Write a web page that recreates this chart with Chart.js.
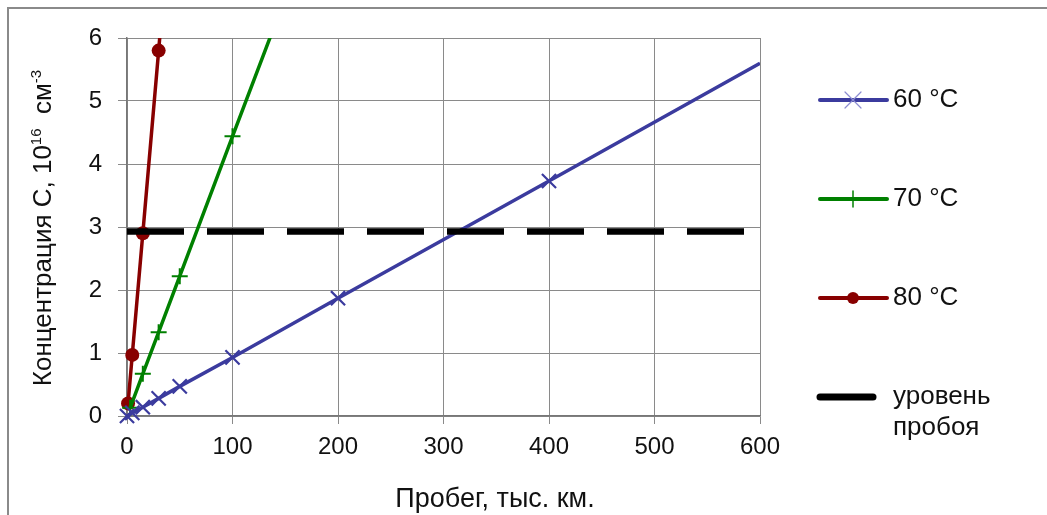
<!DOCTYPE html>
<html>
<head>
<meta charset="utf-8">
<script src="https://cdn.jsdelivr.net/npm/chart.js@4"></script>
<style>
  html, body { margin: 0; padding: 0; background: #fff; }
  #wrap { width: 1047px; height: 515px; }
</style>
</head>
<body>
<div id="wrap"><canvas id="grafico" width="1047" height="515"></canvas></div>
<script>
// данные
const probeg60 = [0, 5, 15, 30, 50, 100, 200, 400, 600];
const konc60 = [0, 0.05, 0.14, 0.28, 0.47, 0.93, 1.87, 3.73, 5.6];
const probeg70 = [3, 15, 30, 50, 100, 140];
const konc70 = [0.13, 0.67, 1.33, 2.22, 4.44, 6.2];
const probeg80 = [1, 5, 15, 30, 35];
const konc80 = [0.2, 0.97, 2.9, 5.8, 6.8];
const urovenProboya = 2.93;
const urovenX = [0, 590];
const xTicks = [0, 100, 200, 300, 400, 500, 600];
const yTicks = [0, 1, 2, 3, 4, 5, 6];
const nazvaniya = ['60 °C', '70 °C', '80 °C', 'уровень пробоя'];

function toPoints(xs, ys) {
    return xs.map((x, i) => ({ x: x, y: ys[i] }));
}
// последняя точка только продлевает линию, без маркера
function radii(n, r) {
    return Array.from({ length: n }, (_, i) => i === n - 1 ? 0 : r);
}

const FONT = 'Liberation Sans, Arial, sans-serif';

const ramka = {
    id: 'ramka',
    beforeDraw(chart) {
        const c = chart.ctx;
        c.save();
        c.strokeStyle = '#8a8a8a';
        c.lineWidth = 2;
        c.beginPath();
        c.moveTo(8, 515);
        c.lineTo(8, 8);
        c.lineTo(1047, 8);
        c.stroke();
        c.restore();
    },
    afterDraw(chart) {
        const c = chart.ctx;
        c.save();
        c.fillStyle = '#111';
        // подпись оси X
        c.font = '27px ' + FONT;
        c.textAlign = 'center';
        c.textBaseline = 'middle';
        c.fillText('Пробег, тыс. км.', 495, 500);

        // подпись оси Y с верхними индексами
        const parts = [
            ['Концентрация С, 10', 26, 0],
            ['16', 15, -10],
            ['  см', 26, 0],
            ['-3', 15, -10]
        ];
        let total = 0;
        parts.forEach(p => { c.font = p[1] + 'px ' + FONT; total += c.measureText(p[0]).width; });
        c.translate(42, 228);
        c.rotate(-Math.PI / 2);
        c.textAlign = 'left';
        c.textBaseline = 'alphabetic';
        let x = -total / 2;
        parts.forEach(p => {
            c.font = p[1] + 'px ' + FONT;
            c.fillText(p[0], x, 9 + p[2]);
            x += c.measureText(p[0]).width;
        });
        c.setTransform(1, 0, 0, 1, 0, 0);

        // легенда
        const ys = [100, 199, 298, 397];
        chart.data.datasets.forEach((ds, i) => {
            const y = ys[i];
            c.strokeStyle = ds.borderColor;
            c.lineCap = 'round';
            c.lineWidth = i === 3 ? 7 : 4;
            c.beginPath();
            c.moveTo(820, y);
            c.lineTo(i === 3 ? 873 : 887, y);
            c.stroke();
            const mx = 853;
            if (i === 0) {
                c.strokeStyle = '#8c8cd0';
                c.lineWidth = 1.2;
                c.beginPath();
                c.moveTo(mx - 8, y - 8); c.lineTo(mx + 8, y + 8);
                c.moveTo(mx - 8, y + 8); c.lineTo(mx + 8, y - 8);
                c.stroke();
            } else if (i === 1) {
                c.lineWidth = 1.5;
                c.beginPath();
                c.moveTo(mx, y - 8); c.lineTo(mx, y + 8);
                c.stroke();
            } else if (i === 2) {
                c.fillStyle = ds.borderColor;
                c.beginPath();
                c.arc(mx, y, 6, 0, Math.PI * 2);
                c.fill();
            }
            c.fillStyle = '#111';
            c.font = '26px ' + FONT;
            c.textAlign = 'left';
            c.textBaseline = 'middle';
            if (i === 3) {
                c.fillText('уровень', 893, y);
                c.fillText('пробоя', 893, y + 31);
            } else {
                c.fillText(nazvaniya[i], 893, y);
            }
        });
        c.restore();
    }
};

const ctx = document.getElementById('grafico').getContext('2d');
new Chart(ctx, {
    type: 'scatter',
    data: {
        datasets: [
            {
                label: nazvaniya[0],
                data: toPoints(probeg60, konc60),
                showLine: true,
                borderColor: '#3b3b9e',
                backgroundColor: '#3b3b9e',
                borderWidth: 3.5,
                pointStyle: 'crossRot',
                pointRadius: radii(probeg60.length, 10),
                pointBorderWidth: 2.2,
                clip: { left: 12, bottom: 12, top: 0, right: 0 },
                order: 2
            },
            {
                label: nazvaniya[1],
                data: toPoints(probeg70, konc70),
                showLine: true,
                borderColor: '#008000',
                backgroundColor: '#008000',
                borderWidth: 3.5,
                pointStyle: 'cross',
                pointRadius: radii(probeg70.length, 8),
                pointBorderWidth: 2,
                clip: { left: 12, bottom: 12, top: 0, right: 0 },
                order: 3
            },
            {
                label: nazvaniya[2],
                data: toPoints(probeg80, konc80),
                showLine: true,
                borderColor: '#880000',
                backgroundColor: '#880000',
                borderWidth: 3.5,
                pointStyle: 'circle',
                pointRadius: radii(probeg80.length, 7),
                pointBorderWidth: 0,
                clip: { left: 12, bottom: 12, top: 0, right: 0 },
                order: 4
            },
            {
                label: nazvaniya[3],
                data: urovenX.map(x => ({ x: x, y: urovenProboya })),
                showLine: true,
                borderColor: '#000000',
                backgroundColor: '#000000',
                borderWidth: 6.5,
                borderDash: [57, 23],
                borderCapStyle: 'butt',
                pointRadius: 0,
                order: 1
            }
        ]
    },
    options: {
        responsive: false,
        animation: false,
        layout: { padding: { top: 38, right: 287, left: 0, bottom: 0 } },
        plugins: {
            legend: { display: false },
            tooltip: { enabled: false }
        },
        scales: {
            x: {
                type: 'linear',
                min: 0,
                max: 600,
                afterFit(scale) { scale.height = 99; },
                afterBuildTicks(scale) { scale.ticks = xTicks.map(v => ({ value: v })); },
                grid: { color: '#8a8a8a', lineWidth: 1, tickLength: 8 },
                border: { color: '#777', width: 1.5 },
                ticks: { color: '#111', font: { size: 24, family: FONT }, padding: 9, maxRotation: 0 }
            },
            y: {
                type: 'linear',
                min: 0,
                max: 6,
                afterFit(scale) { scale.width = 127; },
                afterBuildTicks(scale) { scale.ticks = yTicks.map(v => ({ value: v })); },
                grid: { color: '#8a8a8a', lineWidth: 1, tickLength: 9 },
                border: { color: '#777', width: 1.5 },
                ticks: { color: '#111', font: { size: 24, family: FONT }, padding: 16 }
            }
        }
    },
    plugins: [ramka]
});
</script>
</body>
</html>
